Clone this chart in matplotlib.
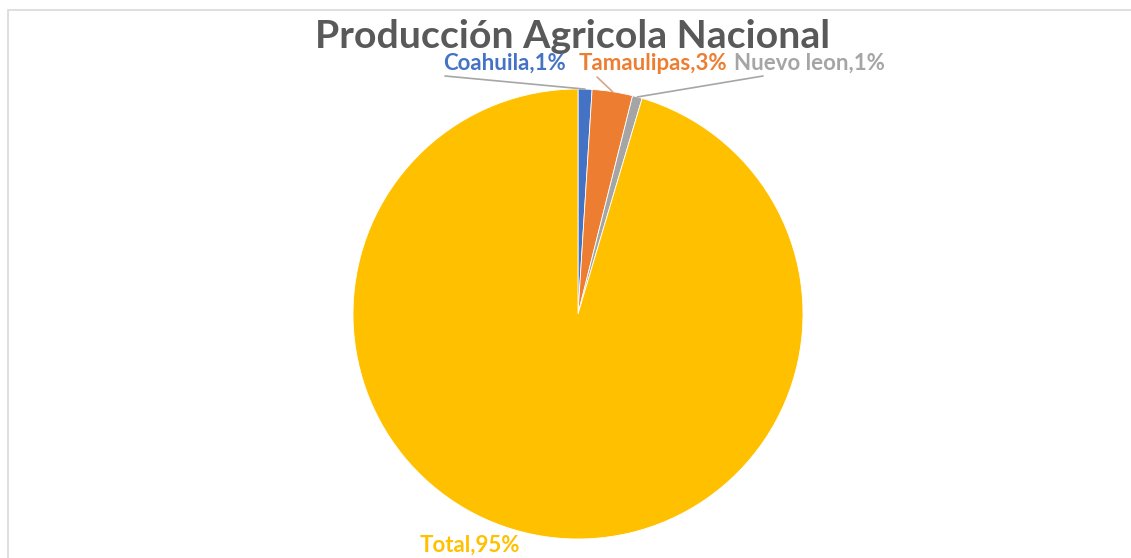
import numpy as np
import matplotlib.pyplot as plt
from matplotlib.patches import Rectangle

# datos
estados = ['Coahuila', 'Tamaulipas', 'Nuevo leon', 'Total']
porcentajes = [1.0, 2.9, 0.7, 95.4]
colores = ['#4472C4', '#ED7D31', '#A5A5A5', '#FFC000']

W, H = 1131, 558


def px(x, y):
    # pixel -> fraccion de figura
    return (x / W, 1 - y / H)


fig = plt.figure(figsize=(W / 100, H / 100), dpi=100)
fig.patch.set_facecolor('white')

# marco del grafico
fig.patches.append(Rectangle(px(8, H + 20), (W + 20) / W, (H + 10) / H,
                             transform=fig.transFigure, fill=False,
                             edgecolor='#D9D9D9', linewidth=1.2))

r = 225
cx, cy = 578, 314
ax = fig.add_axes([(cx - r) / W, (H - cy - r) / H, 2 * r / W, 2 * r / H])
wedges, _ = ax.pie(porcentajes, colors=colores, startangle=90, counterclock=False,
                   wedgeprops=dict(edgecolor='white', linewidth=0.6))
ax.set_xlim(-1, 1)
ax.set_ylim(-1, 1)
ax.set_aspect('equal')
ax.axis('off')

fig.text(*px(573, 36), 'Producción Agricola Nacional', ha='center', va='center',
         fontsize=28.3, fontweight='bold', color='#595959', family='Lato')

# etiquetas y lineas guia
pos_texto = [(443, 63), (579, 63), (734, 63), (420, 545)]
inicio_linea = [(445, 76), (597, 77), (763, 76), None]
color_linea = ['#A6A6A6', '#D7A58A', '#A6A6A6', None]
for w, nombre, p, col, tpos, lpos, lc in zip(wedges, estados, porcentajes, colores,
                                            pos_texto, inicio_linea, color_linea):
    fig.text(*px(*tpos), f'{nombre},{round(p):.0f}%', ha='left', va='center',
             fontsize=16, fontweight='bold', color=col, family='Lato')
    if lpos is not None:
        ang = np.deg2rad((w.theta1 + w.theta2) / 2)
        ax.annotate('', xy=(np.cos(ang), np.sin(ang)), xycoords='data',
                    xytext=px(*lpos), textcoords='figure fraction',
                    arrowprops=dict(arrowstyle='-', color=lc, lw=1.2,
                                    shrinkA=0, shrinkB=0))

fig.savefig('out.png', dpi=100)
